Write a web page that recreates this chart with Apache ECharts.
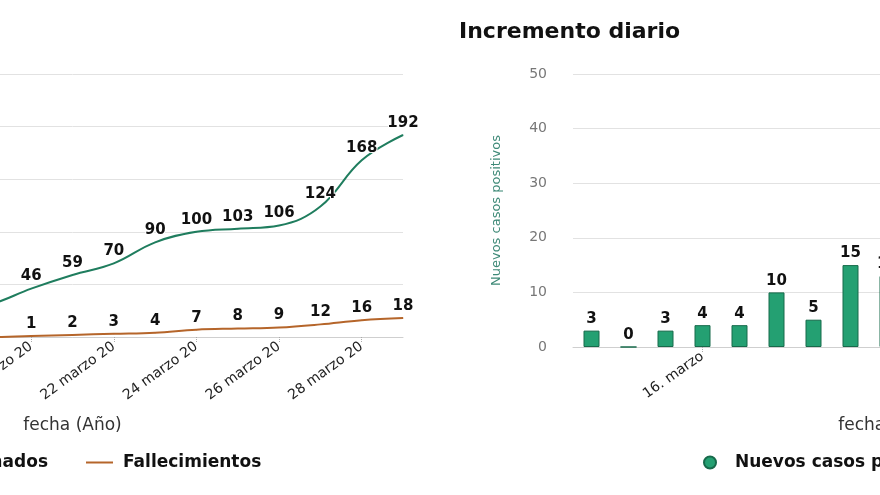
<!DOCTYPE html>
<html>
<head>
<meta charset="utf-8">
<script src="https://cdn.jsdelivr.net/npm/echarts@6/dist/echarts.min.js"></script>
<style>
html,body{margin:0;padding:0;background:#fff;overflow:hidden;width:880px;height:495px;}
#wrap{position:relative;width:880px;height:495px;overflow:hidden;}
#c{position:absolute;left:-400px;top:0;width:1700px;height:495px;}
</style>
</head>
<body>
<div id="wrap"><div id="c"></div></div>
<script>
// Dates (13 – 29 marzo 2020)
var fechas = ['13 marzo 20','14 marzo 20','15 marzo 20','16 marzo 20','17 marzo 20','18 marzo 20','19 marzo 20','20 marzo 20','21 marzo 20','22 marzo 20','23 marzo 20','24 marzo 20','25 marzo 20','26 marzo 20','27 marzo 20','28 marzo 20','29 marzo 20'];
var fechasCortas = ['13. marzo','14. marzo','15. marzo','16. marzo','17. marzo','18. marzo','19. marzo','20. marzo','21. marzo','22. marzo','23. marzo','24. marzo','25. marzo','26. marzo','27. marzo','28. marzo','29. marzo'];
// Cumulative confirmed cases
var casosAcumulados = [5, 5, 8, 12, 16, 26, 31, 46, 59, 70, 90, 100, 103, 106, 124, 168, 192];
// Cumulative deaths
var fallecimientos = [0, 0, 0, 0, 0, 0, 0, 1, 2, 3, 4, 7, 8, 9, 12, 16, 18];
// Daily new positive cases
var nuevosCasos = [3, 0, 3, 4, 4, 10, 5, 15, 13, 11, 20, 10, 3, 3, 18, 44, 24];
// Tick values
var ticksIzq = [0, 50, 100, 150, 200, 250];
var ticksDer = [0, 10, 20, 30, 40, 50];

var FONT = 'DejaVu Sans';
var GREEN_LINE = '#1f7d5e';
var BROWN_LINE = '#b5652a';
var BAR_FILL = '#24a072';
var BAR_BORDER = '#176a4b';

function labelStyle() {
  return {
    show: true, position: 'top', distance: 4,
    fontFamily: FONT, fontWeight: 'bold', fontSize: 15, color: '#111',
    textBorderColor: '#fff', textBorderWidth: 2
  };
}
var legendText = {fontFamily: FONT, fontWeight: 'bold', fontSize: 17, color: '#111', padding: [0, 0, 0, 5]};

var chart = echarts.init(document.getElementById('c'), null, {renderer: 'canvas'});
chart.setOption({
  animation: false,
  backgroundColor: '#fff',
  textStyle: {fontFamily: FONT},
  title: [{
    text: 'Incremento diario', left: 859, top: 21, padding: 0,
    textStyle: {fontFamily: FONT, fontWeight: 'bold', fontSize: 22, color: '#111'}
  }],
  legend: [{
    data: ['Casos confirmados'], right: 1252, top: 454, padding: 0,
    icon: 'rect', itemWidth: 27, itemHeight: 2,
    textStyle: legendText
  }, {
    data: ['Fallecimientos'], left: 486, top: 454, padding: 0,
    icon: 'rect', itemWidth: 27, itemHeight: 2,
    textStyle: legendText
  }, {
    data: ['Nuevos casos positivos'], left: 1103, top: 454, padding: 0,
    icon: 'circle', itemWidth: 34, itemHeight: 12,
    textStyle: {fontFamily: FONT, fontWeight: 'bold', fontSize: 17, color: '#111', padding: [0, 0, 0, 3]}
  }],
  grid: [
    {left: 142, right: 897, top: 74, bottom: 158, containLabel: false},
    {left: 973, right: 98, top: 74, bottom: 148, containLabel: false}
  ],
  xAxis: [{
    gridIndex: 0, type: 'category', data: fechas, boundaryGap: false,
    name: 'fecha (Año)', nameLocation: 'middle', nameGap: 80,
    nameTextStyle: {fontFamily: FONT, fontSize: 17, color: '#333'},
    axisLine: {lineStyle: {color: '#cfcfcf', width: 1}},
    axisTick: {show: true, length: 6, lineStyle: {color: '#aaa', type: 'dotted'}, interval: function (i) { return i % 2 === 1; }},
    axisLabel: {rotate: 36, fontSize: 14, color: '#222', margin: 8, interval: function (i) { return i % 2 === 1; }}
  }, {
    gridIndex: 1, type: 'category', data: fechasCortas, boundaryGap: true,
    name: 'fecha (Año)', nameLocation: 'middle', nameGap: 70,
    nameTextStyle: {fontFamily: FONT, fontSize: 17, color: '#333'},
    axisLine: {lineStyle: {color: '#cfcfcf', width: 1}},
    axisTick: {show: true, alignWithLabel: true, length: 6, lineStyle: {color: '#aaa', type: 'dotted'}, interval: function (i) { return i % 7 === 3; }},
    axisLabel: {rotate: 35, fontSize: 14, color: '#222', margin: 8, interval: function (i) { return i % 7 === 3; }}
  }],
  yAxis: [{
    gridIndex: 0, type: 'value', min: ticksIzq[0], max: ticksIzq[ticksIzq.length - 1], interval: 50,
    axisLine: {show: false}, axisTick: {show: false},
    axisLabel: {fontSize: 14, color: '#777'},
    splitLine: {lineStyle: {color: '#e2e2e2', width: 1}}
  }, {
    gridIndex: 1, type: 'value', min: ticksDer[0], max: ticksDer[ticksDer.length - 1], interval: 10,
    name: 'Nuevos casos positivos', nameLocation: 'middle', nameGap: 70,
    nameTextStyle: {fontFamily: FONT, fontSize: 13, color: '#3f8a78'},
    axisLine: {show: false}, axisTick: {show: false},
    axisLabel: {fontSize: 14, color: '#777', margin: 26},
    splitLine: {lineStyle: {color: '#e2e2e2', width: 1}}
  }],
  series: [{
    name: 'Casos confirmados', type: 'line', xAxisIndex: 0, yAxisIndex: 0,
    data: casosAcumulados, smooth: 0.4, symbol: 'circle', symbolSize: 1, showSymbol: true,
    lineStyle: {color: GREEN_LINE, width: 2}, itemStyle: {color: GREEN_LINE},
    label: labelStyle()
  }, {
    name: 'Fallecimientos', type: 'line', xAxisIndex: 0, yAxisIndex: 0,
    data: fallecimientos, smooth: 0.4, symbol: 'circle', symbolSize: 1, showSymbol: true,
    lineStyle: {color: BROWN_LINE, width: 2}, itemStyle: {color: BROWN_LINE},
    label: labelStyle()
  }, {
    name: 'Nuevos casos positivos', type: 'bar', xAxisIndex: 1, yAxisIndex: 1,
    data: nuevosCasos, barWidth: 16,
    itemStyle: {color: BAR_FILL, borderColor: BAR_BORDER, borderWidth: 1},
    label: labelStyle()
  }]
});
</script>
</body>
</html>
